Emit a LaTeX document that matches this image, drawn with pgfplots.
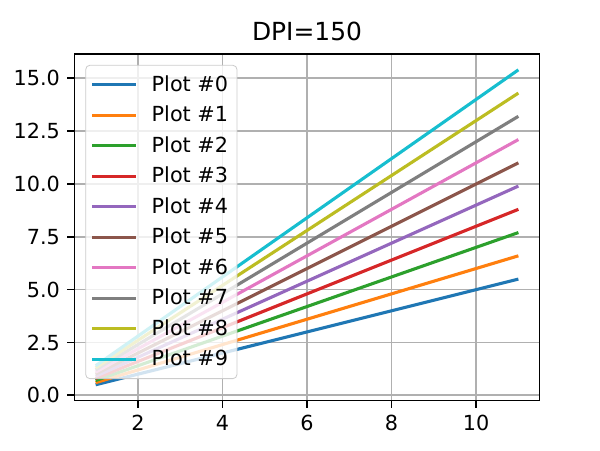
\documentclass[border=0pt]{standalone}
\usepackage{pgfplots}
\pgfplotsset{compat=1.18}
\usepackage{fontspec}
\setmainfont{DejaVu Sans}
\definecolor{c0}{HTML}{1F77B4}
\definecolor{c1}{HTML}{FF7F0E}
\definecolor{c2}{HTML}{2CA02C}
\definecolor{c3}{HTML}{D62728}
\definecolor{c4}{HTML}{9467BD}
\definecolor{c5}{HTML}{8C564B}
\definecolor{c6}{HTML}{E377C2}
\definecolor{c7}{HTML}{7F7F7F}
\definecolor{c8}{HTML}{BCBD22}
\definecolor{c9}{HTML}{17BECF}
\definecolor{gridc}{HTML}{B0B0B0}
\begin{document}
\begin{tikzpicture}
\useasboundingbox (0,0) rectangle (289.08pt,216.81pt);
\begin{axis}[
  at={(35.9pt,23.85pt)}, anchor=south west,
  scale only axis, width=224.04pt, height=166.9pt,
  xmin=0.5, xmax=11.5, ymin=-0.245, ymax=16.145,
  xtick={2,4,6,8,10},
  ytick={0,2.5,5,7.5,10,12.5,15},
  yticklabel style={/pgf/number format/.cd, fixed, fixed zerofill, precision=1},
  /pgf/number format/assume math mode=true,
  tick label style={font=\fontsize{10}{12}\selectfont},
  tick align=outside, tick pos=left,
  major tick length=3.5pt,
  every tick/.style={black, line width=0.8pt},
  axis line style={line width=0.8pt},
  grid=major, grid style={gridc, line width=0.8pt},
  title={DPI=150}, title style={font=\fontsize{12}{14}\selectfont, yshift=-3pt},
  legend style={font=\fontsize{10}{12}\selectfont, fill=white, fill opacity=0.8, text opacity=1, draw=gray!40, rounded corners=2pt,
    at={(0,1)}, xshift=5.2pt, yshift=-5.2pt, anchor=north west, row sep=1.6pt, column sep=5pt, inner xsep=2.3pt, inner ysep=2.8pt},
  legend cell align=left,
  legend image code/.code={\draw[#1, line width=1.5pt] (0pt,0pt) -- (21pt,0pt);},
  every axis plot/.append style={line width=1.5pt},
]
\addplot[c0] coordinates {(1,0.5) (11,5.5)};
\addplot[c1] coordinates {(1,0.6) (11,6.6)};
\addplot[c2] coordinates {(1,0.7) (11,7.7)};
\addplot[c3] coordinates {(1,0.8) (11,8.8)};
\addplot[c4] coordinates {(1,0.9) (11,9.9)};
\addplot[c5] coordinates {(1,1.0) (11,11.0)};
\addplot[c6] coordinates {(1,1.1) (11,12.1)};
\addplot[c7] coordinates {(1,1.2) (11,13.2)};
\addplot[c8] coordinates {(1,1.3) (11,14.3)};
\addplot[c9] coordinates {(1,1.4) (11,15.4)};
\legend{Plot \#0,Plot \#1,Plot \#2,Plot \#3,Plot \#4,Plot \#5,Plot \#6,Plot \#7,Plot \#8,Plot \#9}
\end{axis}
\end{tikzpicture}
\end{document}
